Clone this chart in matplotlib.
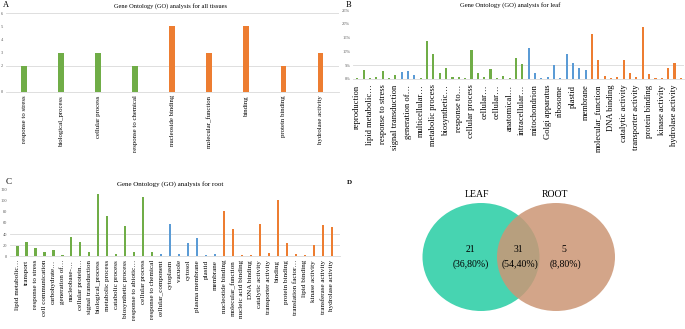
import matplotlib
matplotlib.use("Agg")
import matplotlib.pyplot as plt
from matplotlib.patches import Ellipse

plt.rcParams["font.family"] = ["Liberation Serif", "DejaVu Serif"]

W, H = 685, 329

# ---- data ----
all_terms = ["response to stress", "biological_process", "cellular process",
             "response to chemical", "nucleoside binding", "molecular_function",
             "binding", "protein binding", "hydrolase activity"]
all_counts = [2, 3, 3, 2, 5, 3, 5, 2, 3]
all_groups = ["BP"] * 4 + ["MF"] * 5

leaf_labels = ["reproduction", "lipid metabolic…", "response to stress",
               "signal transduction", "generation of…", "multicellular…",
               "metabolic process", "biosynthetic…", "response to…",
               "cellular process", "cellular…", "cellular…", "anatomical…",
               "intracellular…", "mitochondrion", "Golgi apparatus", "ribosome",
               "plastid", "membrane", "molecular_function", "DNA binding",
               "catalytic activity", "transporter activity", "protein binding",
               "kinase activity", "hydrolase activity"]
leaf_values = [0.4, 3.2, 0.4, 0.6, 2.9, 0.4, 1.3, 2.6, 3.0, 1.4,
               0.2, 13.7, 9.0, 2.3, 3.9, 0.8, 0.6, 0.2, 10.5, 2.0,
               0.6, 3.5, 0.2, 1.2, 0.3, 7.7, 5.4, 11.4, 2.3, 0.2,
               0.7, 5.2, 0.4, 9.0, 5.8, 3.9, 3.3, 16.2, 6.8, 1.1,
               0.3, 0.7, 6.8, 2.0, 0.7, 18.9, 1.8, 0.4, 0.3, 4.0,
               5.8, 0.3]
leaf_groups = (["BP"] * 7 + ["CC"] * 3 + ["BP"] * 17 + ["CC"] * 10 + ["MF"] * 15)

root_terms = ["lipid metabolic…", "transport", "response to stress",
              "cell communication", "carbohydrate…", "generation of…",
              "nucleobase-…", "cellular protein…", "signal transduction",
              "biological_process", "metabolic process", "catabolic process",
              "biosynthetic process", "response to abiotic…", "cellular process",
              "response to chemical", "cellular_component", "cytoplasm",
              "vacuole", "cytosol", "plasma membrane", "plastid", "membrane",
              "nucleotide binding", "molecular_function", "nucleic acid binding",
              "DNA binding", "catalytic activity", "transporter activity",
              "binding", "protein binding", "translation factor…",
              "lipid binding", "kinase activity", "transferase activity",
              "hydrolase activity"]
root_counts = [18, 25, 15, 7, 11, 3, 35, 26, 7, 113, 72, 5, 55, 7, 107, 7,
               5, 59, 5, 24, 33, 3, 5,
               82, 49, 3, 3, 59, 6, 102, 24, 4, 3, 20, 56, 52]
root_groups = ["BP"] * 16 + ["CC"] * 7 + ["MF"] * 13

venn_sets = ["LEAF", "ROOT"]
venn_counts = [21, 31, 5]
venn_pcts = ["(36,80%)", "(54,40%)", "(8,80%)"]

colors = {"BP": "#70AD47", "CC": "#5B9BD5", "MF": "#ED7D31"}

fig = plt.figure(figsize=(W / 100, H / 100), dpi=100)


def px_axes(l, t, r, b):
    return fig.add_axes([l / W, 1 - b / H, (r - l) / W, (b - t) / H])


def bar_panel(ax, values, groups, width, yticks, grid, ticklabels=None):
    x = list(range(len(values)))
    ax.bar(x, values, width=width, color=[colors[g] for g in groups], zorder=2)
    for g in grid:
        ax.axhline(g, color="#d9d9d9", lw=0.6, zorder=1)
    ax.set_yticks(yticks)
    ax.set_yticklabels(ticklabels if ticklabels else [str(t) for t in yticks],
                       fontsize=3.2, color="#595959")
    for s in ["top", "right", "left"]:
        ax.spines[s].set_visible(False)
    ax.spines["bottom"].set_color("#d9d9d9")
    ax.spines["bottom"].set_linewidth(0.6)
    ax.tick_params(length=0, pad=2)
    ax.tick_params(axis="x", pad=2.5)


# ---- A ----
axA = px_axes(5.8, 13.3, 339, 91.7)
bar_panel(axA, all_counts, all_groups, 0.16, [0, 2, 3, 4, 5, 6], [2, 6])
axA.set_xticks(range(len(all_terms)))
axA.set_xticklabels(all_terms, rotation=90, fontsize=4.9)
axA.set_xlim(-0.5, 8.5)
axA.set_ylim(0, 6)
fig.text(170 / W, 1 - 6 / H, "Gene Ontology (GO) analysis for all tissues",
         ha="center", va="center", fontsize=4.6)
fig.text(3 / W, 1 - 5 / H, "A", ha="left", va="center", fontsize=6)

# ---- B ----
axB = px_axes(353, 10, 684, 79)
bar_panel(axB, leaf_values, leaf_groups, 0.33, [0, 5, 10, 15, 20, 25], [5],
          ["0%", "5%", "10%", "15%", "20%", "25%"])
axB.set_xticks(range(0, len(leaf_values), 2))
axB.set_xticklabels(leaf_labels, rotation=90, fontsize=6.1)
axB.tick_params(axis="x", pad=4)
axB.set_xlim(-0.68, 51.5)
axB.set_ylim(0, 25)
fig.text(510 / W, 1 - 5 / H, "Gene Ontology (GO) analysis for leaf",
         ha="center", va="center", fontsize=4.8)
fig.text(346 / W, 1 - 5 / H, "B", ha="left", va="center", fontsize=6)

# ---- C ----
axC = px_axes(10, 189.7, 340, 256.3)
bar_panel(axC, root_counts, root_groups, 0.3, [0, 20, 40, 60, 80, 100, 120], [20, 40])
axC.set_xticks(range(len(root_terms)))
axC.set_xticklabels(root_terms, rotation=90, fontsize=5.1)
axC.set_xlim(-0.8, 35.9)
axC.set_ylim(0, 120)
fig.text(170 / W, 1 - 184 / H, "Gene Ontology (GO) analysis for root",
         ha="center", va="center", fontsize=5)
fig.text(6 / W, 1 - 182 / H, "C", ha="left", va="center", fontsize=6.5)

# ---- D ----
axD = px_axes(340, 165, 685, 329)
axD.set_xlim(340, 685)
axD.set_ylim(329, 165)
axD.axis("off")
axD.add_patch(Ellipse((481, 257), 117, 108, color="#47D4B1", lw=0))
axD.add_patch(Ellipse((556, 257), 118, 108, color="#CC9675", alpha=0.85, lw=0))
axD.text(476.7, 195, venn_sets[0], ha="center", va="center", fontsize=7)
axD.text(555, 195, venn_sets[1], ha="center", va="center", fontsize=7)
for cx, n, p in zip([470, 518.5, 564], venn_counts, venn_pcts):
    axD.text(cx, 250, str(n), ha="center", va="center", fontsize=7)
    axD.text(cx + 1, 264.5, p, ha="center", va="center", fontsize=7)
fig.text(347 / W, 1 - 183 / H, "D", ha="left", va="center", fontsize=5,
         fontweight="bold")

fig.savefig("out.png", dpi=100)
